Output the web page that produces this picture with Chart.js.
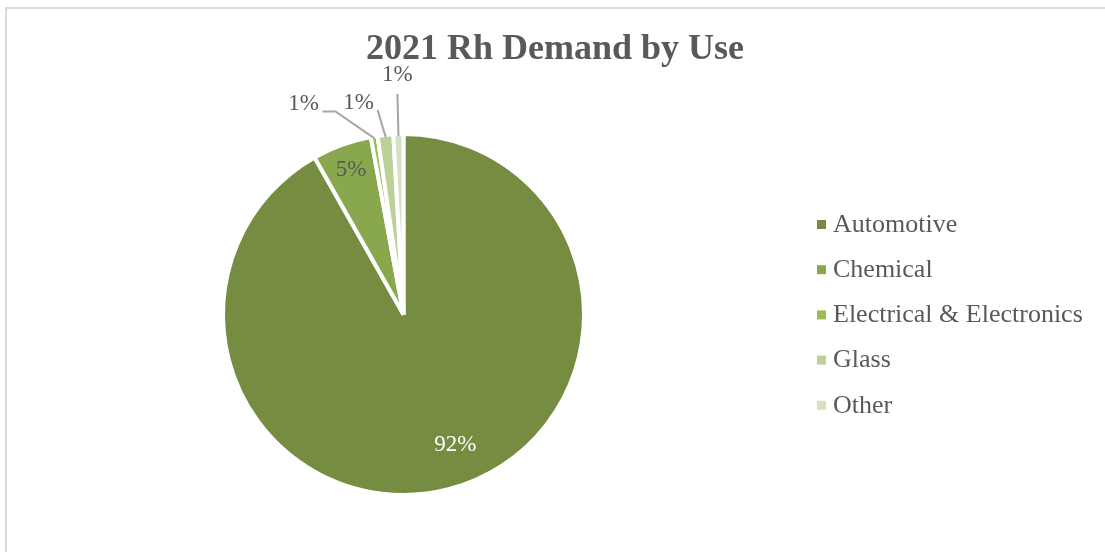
<!DOCTYPE html>
<html>
<head>
<meta charset="utf-8">
<script src="https://cdn.jsdelivr.net/npm/chart.js@4.4.1/dist/chart.umd.min.js"></script>
<style>
  html, body { margin: 0; padding: 0; background: #fff; overflow: hidden; }
  #wrap { position: relative; width: 1105px; height: 552px; }
  #frame { position: absolute; left: 5px; top: 7px; width: 1200px; height: 700px; border-left: 2px solid #d9d9d9; border-top: 2px solid #d9d9d9; box-sizing: border-box; }
  canvas { position: absolute; left: 0; top: 0; }
</style>
</head>
<body>
<div id="wrap">
  <div id="frame"></div>
  <canvas id="c" width="1105" height="552"></canvas>
</div>
<script>
const chartTitle = '2021 Rh Demand by Use';
const categories = ['Automotive', 'Chemical', 'Electrical & Electronics', 'Glass', 'Other'];
const shares = [91.8, 5.3, 0.6, 1.4, 0.9];
const sliceColors = ['#768C40', '#89A84E', '#9BBB59', '#BCD197', '#D4E2BD'];

const FONT = '"Liberation Serif", "Times New Roman", serif';
const TEXT = '#595959';

// label placement style: inside (ratio of radius) or outside with leader
const labelStyle = [
  { inside: true, ratio: 0.78, angleShift: -0.12, color: '#ffffff' },
  { inside: true, ratio: 0.85, angleShift: 0, color: TEXT },
  { inside: false, bend: [-39, -27], elbow: -13, text: [-19, -7] },
  { inside: false, bend: [-8, -27], text: [-19, -7] },
  { inside: false, bend: [-1, -42], text: [0, -19] }
];

const labelPlugin = {
  id: 'labels',
  afterDraw(chart) {
    const ctx = chart.ctx;
    const meta = chart.getDatasetMeta(0);
    const data = chart.data.datasets[0].data;
    const total = data.reduce((a, b) => a + b, 0);
    ctx.save();
    ctx.font = '23px ' + FONT;
    ctx.textAlign = 'center';
    ctx.textBaseline = 'middle';
    meta.data.forEach((arc, i) => {
      const p = arc.getProps(['x', 'y', 'startAngle', 'endAngle', 'outerRadius'], true);
      const mid = (p.startAngle + p.endAngle) / 2;
      const txt = Math.round(data[i] / total * 100) + '%';
      const st = labelStyle[i];
      if (st.inside) {
        const a = mid + st.angleShift;
        const r = p.outerRadius * st.ratio;
        ctx.fillStyle = st.color;
        ctx.fillText(txt, p.x + Math.cos(a) * r, p.y + Math.sin(a) * r);
      } else {
        const ex = p.x + Math.cos(mid) * (p.outerRadius - 2);
        const ey = p.y + Math.sin(mid) * (p.outerRadius - 2);
        const bx = ex + st.bend[0], by = ey + st.bend[1];
        ctx.strokeStyle = '#a6a6a6';
        ctx.lineWidth = 2;
        ctx.beginPath();
        ctx.moveTo(ex, ey);
        ctx.lineTo(bx, by);
        let tx = bx, ty = by;
        if (st.elbow) { ctx.lineTo(bx + st.elbow, by); tx = bx + st.elbow; }
        ctx.stroke();
        ctx.fillStyle = TEXT;
        ctx.fillText(txt, tx + st.text[0], ty + st.text[1]);
      }
    });
    // title
    ctx.font = 'bold 36px ' + FONT;
    ctx.fillStyle = TEXT;
    ctx.textAlign = 'center';
    ctx.textBaseline = 'alphabetic';
    ctx.fillText(chartTitle, 555, 59);
    // legend
    ctx.font = '26px ' + FONT;
    ctx.textAlign = 'left';
    ctx.textBaseline = 'middle';
    chart.data.labels.forEach((lab, i) => {
      const y = 225 + i * 45.2;
      ctx.fillStyle = sliceColors[i];
      ctx.fillRect(817, y - 5, 9, 9);
      ctx.fillStyle = TEXT;
      ctx.fillText(lab, 833, y);
    });
    ctx.restore();
  }
};

new Chart(document.getElementById('c'), {
  type: 'pie',
  data: {
    labels: categories,
    datasets: [{
      data: shares,
      backgroundColor: sliceColors,
      borderColor: '#ffffff',
      borderWidth: 4
    }]
  },
  options: {
    responsive: false,
    animation: false,
    layout: { padding: { left: 221, top: 132, right: 519, bottom: 55 } },
    plugins: {
      legend: { display: false },
      title: { display: false },
      tooltip: { enabled: false }
    }
  },
  plugins: [labelPlugin]
});
</script>
</body>
</html>
